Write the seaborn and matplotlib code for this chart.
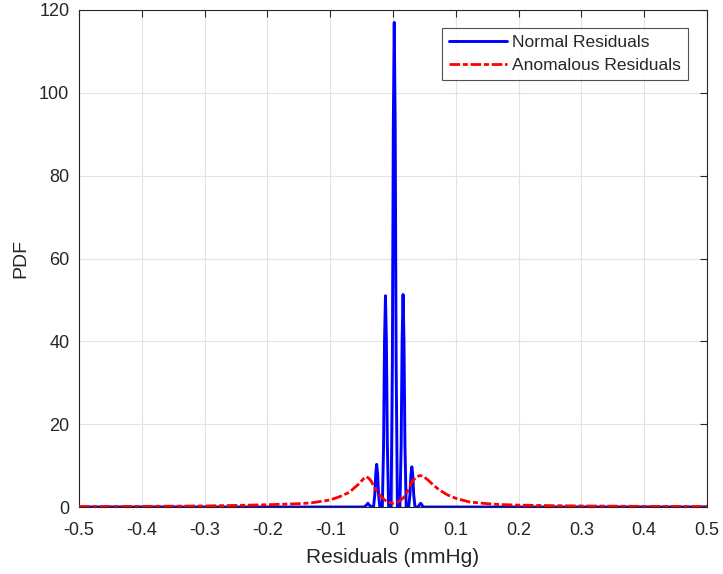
import matplotlib
matplotlib.use("Agg")
import matplotlib.pyplot as plt
import numpy as np
import pandas as pd
import seaborn as sns

# Normal residuals PDF
normal_x = [-0.5, -0.046, -0.042, -0.040, -0.038, -0.034, -0.031, -0.029, -0.0275, -0.026, -0.0245, -0.023, -0.021,
            -0.017, -0.015, -0.0135, -0.012, -0.0105, -0.009, -0.007,
            -0.003, -0.001, 0.0005, 0.002, 0.0035, 0.005, 0.007,
            0.011, 0.013, 0.0145, 0.016, 0.0175, 0.019, 0.021,
            0.025, 0.027, 0.0285, 0.030, 0.0315, 0.033, 0.035,
            0.040, 0.042, 0.044, 0.046, 0.048, 0.5]
normal_y = [0, 0, 0.5, 0.9, 0.5, 0, 0, 3, 8, 10.3, 8, 3, 0,
            0, 15, 40, 51, 40, 15, 0,
            0, 35, 92, 117, 92, 35, 0,
            0, 15, 40, 51.3, 40, 15, 0,
            0, 3, 7.6, 9.7, 7.6, 3, 0,
            0, 0.5, 0.9, 0.5, 0, 0]

# Anomalous residuals PDF
anom_x = [-0.5, -0.4, -0.3, -0.25, -0.2, -0.15, -0.13, -0.1, -0.085, -0.07, -0.055, -0.047, -0.043, -0.039, -0.035,
          -0.027, -0.02, -0.0135, -0.006, 0.001, 0.008, 0.016, 0.024, 0.031, 0.038, 0.043, 0.046, 0.05, 0.055,
          0.065, 0.074, 0.087, 0.1, 0.122, 0.15, 0.17, 0.2, 0.25, 0.3, 0.4, 0.5]
anom_y = [0.1, 0.15, 0.25, 0.38, 0.55, 0.8, 1.0, 1.7, 2.5, 3.5, 5.5, 6.8, 7.3, 7.0, 6.3,
          4.1, 2.7, 1.7, 1.1, 0.9, 1.2, 2.1, 4.0, 6.3, 7.3, 7.6, 7.5, 7.2, 6.6,
          5.2, 4.1, 2.9, 2.1, 1.2, 0.8, 0.6, 0.45, 0.33, 0.25, 0.15, 0.1]

df = pd.concat([
    pd.DataFrame({"x": normal_x, "y": normal_y, "series": "Normal Residuals"}),
    pd.DataFrame({"x": anom_x, "y": anom_y, "series": "Anomalous Residuals"}),
])

sns.set_style("white")
plt.rcParams["font.family"] = ["Liberation Sans", "DejaVu Sans"]

fig = plt.figure(figsize=(7.23, 5.74), dpi=100)
ax = fig.add_axes([79/723, 1 - 507/574, (707-79)/723, (507-10)/574])

ax.grid(True, color="#e3e3e3", linewidth=0.8, zorder=0)
ax.set_axisbelow(True)

sns.lineplot(data=df[df.series == "Normal Residuals"], x="x", y="y", ax=ax,
             color=(0, 0, 1), linewidth=2.1, label="Normal Residuals", sort=False, zorder=3)
sns.lineplot(data=df[df.series == "Anomalous Residuals"], x="x", y="y", ax=ax,
             color=(1, 0, 0), linewidth=2.0, label="Anomalous Residuals", sort=False, zorder=4,
             linestyle=(0, (3.8, 1.0, 1.8, 1.0)))

ax.set_xlim(-0.5, 0.5)
ax.set_ylim(0, 120)
ax.set_xticks(np.round(np.arange(-0.5, 0.51, 0.1), 1))
ax.set_xticklabels(["-0.5", "-0.4", "-0.3", "-0.2", "-0.1", "0", "0.1", "0.2", "0.3", "0.4", "0.5"])
ax.set_yticks(np.arange(0, 121, 20))
ax.tick_params(direction="in", top=True, right=True, length=5, width=0.8,
               colors="#262626", labelsize=13, labelcolor="#262626")
ax.tick_params(axis="x", pad=11)
ax.tick_params(axis="y", pad=7)
for s in ax.spines.values():
    s.set_color("#262626")
    s.set_linewidth(0.8)

ax.set_xlabel("Residuals (mmHg)", fontsize=15, color="#262626", labelpad=6)
ax.set_ylabel("PDF", fontsize=14, color="#262626", labelpad=7)

leg = ax.legend(loc="upper right", bbox_to_anchor=(688/723, 1 - 28/574), bbox_transform=fig.transFigure,
                fontsize=12.5, frameon=True, fancybox=False, edgecolor="#262626",
                handlelength=3.3, borderpad=0.42, labelspacing=0.42, handletextpad=0.3, borderaxespad=0)
leg.get_frame().set_linewidth(0.8)

fig.savefig("out.png", dpi=100)
